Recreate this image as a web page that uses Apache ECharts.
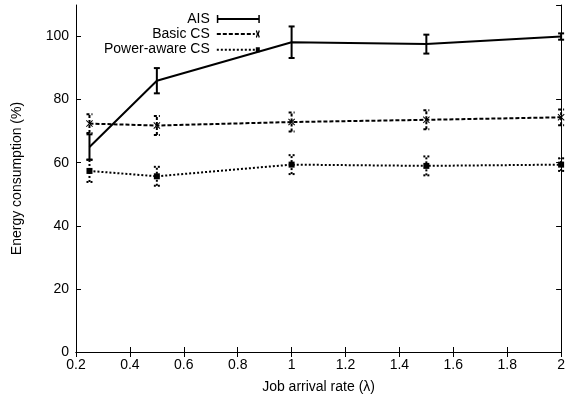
<!DOCTYPE html>
<html><head><meta charset="utf-8">
<script src="https://cdn.jsdelivr.net/npm/echarts@6/dist/echarts.min.js"></script>
<style>html,body{margin:0;padding:0;background:#fff}#c{width:568px;height:403px}</style>
</head><body><div id="c"></div>
<script>
const xs = [0.25, 0.5, 1, 1.5, 2];
const aisMean = [65, 86, 98.2, 97.6, 100];
const aisErr  = [4, 4, 5, 3, 1];
const basicMean = [72.4, 71.8, 72.9, 73.6, 74.4];
const basicErr  = [3, 3, 3, 3, 2.5];
const powerMean = [57.4, 55.7, 59.4, 59.0, 59.4];
const powerErr  = [3.5, 3, 3, 3, 2];
const seriesNames = ['AIS', 'Basic CS', 'Power-aware CS'];
const xTitle = 'Job arrival rate (λ)';
const yTitle = 'Energy consumption (%)';

const FONT = 'Liberation Sans, Arial, sans-serif';
const pts = (m) => xs.map((x, i) => [x, m[i]]);
const errs = (m, e) => xs.map((x, i) => [x, m[i] - e[i], m[i] + e[i]]);

function errRender(dash, w) {
  return function (params, api) {
    const x = api.value(0);
    const p1 = api.coord([x, api.value(1)]);
    const p2 = api.coord([x, api.value(2)]);
    const cw = 3;
    const st = { stroke: '#000', lineWidth: w, lineDash: dash, fill: null };
    return { type: 'group', children: [
      { type: 'line', shape: { x1: p1[0], y1: p1[1], x2: p2[0], y2: p2[1] }, style: st },
      { type: 'line', shape: { x1: p1[0] - cw, y1: p1[1], x2: p1[0] + cw, y2: p1[1] }, style: st },
      { type: 'line', shape: { x1: p2[0] - cw, y1: p2[1], x2: p2[0] + cw, y2: p2[1] }, style: st }
    ]};
  };
}

const xSym = 'path://M0,1L1,0L5,4L9,0L10,1L6,5L10,9L9,10L5,6L1,10L0,9L4,5Z';

// legend icon shapes (43 x 8 box)
function dashIcon(on, off, end, marker) {
  let d = '';
  for (let x = 0; x < end; x += on + off) {
    const x2 = Math.min(x + on, end);
    d += 'M' + x + ',3H' + x2 + 'V5H' + x + 'Z';
  }
  return 'path://M0,0H43V0H0Z' + d + marker;
}
const aisIcon = 'path://M0,0H1.5V3H41.5V0H43V8H41.5V5H1.5V8H0Z';
const basicIcon = dashIcon(4, 2, 38, 'M39,1L40,0L41,3L42,0L43,1L42,4L43,7L42,8L41,5L40,8L39,7L40,4Z');
const powerIcon = dashIcon(2, 2, 38, 'M39,1.5H43V6.5H39Z');

const chart = echarts.init(document.getElementById('c'), null, { renderer: 'canvas' });
const axisLineStyle = { color: '#000', width: 1 };
chart.setOption({
  animation: false,
  backgroundColor: '#fff',
  textStyle: { fontFamily: FONT },
  grid: { left: 76, right: 5, top: 5, bottom: 51 },
  legend: {
    orient: 'vertical', align: 'right', left: 99, top: 7,
    itemWidth: 43, itemHeight: 8, itemGap: 1,
    itemStyle: { borderWidth: 0, color: '#000' },
    textStyle: { fontSize: 14, color: '#000', fontFamily: FONT, lineHeight: 14, padding: [0, 2, 0, 0] },
    data: [
      { name: seriesNames[0], icon: aisIcon },
      { name: seriesNames[1], icon: basicIcon },
      { name: seriesNames[2], icon: powerIcon }
    ]
  },
  xAxis: [{
    type: 'value', min: 0.2, max: 2, interval: 0.2,
    name: xTitle, nameLocation: 'middle', nameGap: 28,
    nameTextStyle: { fontSize: 14, color: '#000', fontFamily: FONT },
    axisLine: { show: true, lineStyle: axisLineStyle },
    axisTick: { show: true, inside: true, length: 5, lineStyle: { color: '#000' } },
    axisLabel: { fontSize: 14, color: '#000', margin: 6, fontFamily: FONT },
    splitLine: { show: false }
  }, {
    type: 'value', min: 0.2, max: 2, interval: 0.2, position: 'top',
    axisLine: { show: true, lineStyle: axisLineStyle },
    axisTick: { show: true, inside: true, length: 5, lineStyle: { color: '#000' } },
    axisLabel: { show: false }, splitLine: { show: false }
  }],
  yAxis: [{
    type: 'value', min: 0, max: 110, interval: 20,
    name: yTitle, nameLocation: 'middle', nameGap: 52,
    nameTextStyle: { fontSize: 14, color: '#000', fontFamily: FONT },
    axisLine: { show: true, lineStyle: axisLineStyle },
    axisTick: { show: true, inside: true, length: 5, lineStyle: { color: '#000' } },
    axisLabel: { fontSize: 14, color: '#000', margin: 7, fontFamily: FONT, showMaxLabel: false,
      formatter: v => (v > 100 ? '' : String(v)) },
    splitLine: { show: false }
  }, {
    type: 'value', min: 0, max: 110, interval: 20, position: 'right',
    axisLine: { show: true, lineStyle: axisLineStyle },
    axisTick: { show: true, inside: true, length: 5, lineStyle: { color: '#000' } },
    axisLabel: { show: false }, splitLine: { show: false }
  }],
  series: [
    { name: seriesNames[0], type: 'line', data: pts(aisMean), symbol: 'none',
      lineStyle: { color: '#000', width: 2 }, itemStyle: { color: '#000' }, z: 5 },
    { name: seriesNames[1], type: 'line', data: pts(basicMean), symbol: xSym, symbolSize: 7,
      lineStyle: { color: '#000', width: 2, type: [4, 2] }, itemStyle: { color: '#000' }, z: 4 },
    { name: seriesNames[2], type: 'line', data: pts(powerMean), symbol: 'rect', symbolSize: 6,
      lineStyle: { color: '#000', width: 2, type: [2, 2] }, itemStyle: { color: '#000' }, z: 3 },
    { type: 'custom', data: errs(aisMean, aisErr), renderItem: errRender(null, 2), z: 5, silent: true },
    { type: 'custom', data: errs(basicMean, basicErr), renderItem: errRender([3, 2], 2), z: 4, silent: true },
    { type: 'custom', data: errs(powerMean, powerErr), renderItem: errRender([2, 2], 2), z: 3, silent: true }
  ]
});
</script></body></html>
